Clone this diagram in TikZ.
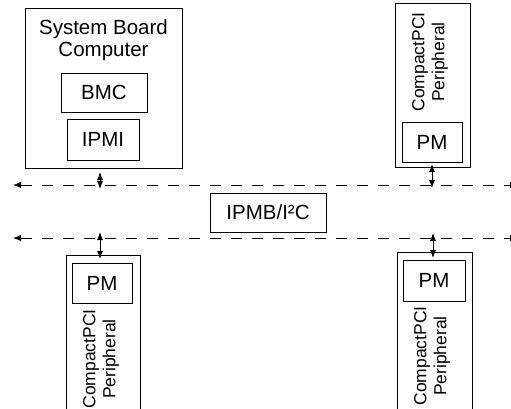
\documentclass[tikz,border=0pt]{standalone}
\usepackage{fontspec}
\setmainfont{Liberation Sans}
\usetikzlibrary{arrows.meta}
\begin{document}
\begin{tikzpicture}[x=1pt,y=-1pt,
  box/.style={draw, line width=0.9pt, inner sep=0pt},
  lbl/.style={font=\fontsize{20.5}{22}\selectfont, align=center, inner sep=0pt},
  rlbl/.style={font=\fontsize{17.5}{20}\selectfont, align=center, inner sep=0pt, rotate=90},
  bus/.style={line width=0.9pt, dash pattern=on 11pt off 10pt, {Latex[length=8pt,width=6.5pt]}-{Latex[length=8pt,width=6.5pt]}},
  biarrow/.style={line width=0.9pt, {Latex[length=8pt,width=6pt]}-{Latex[length=8pt,width=6pt]}}]
\useasboundingbox (0,0) rectangle (511,408);
% system board computer
\node[box, minimum width=157pt, minimum height=160pt] (sbc) at (103.5,88) {};
\node[lbl] (sbct) at (103.5,40) {System Board\\Computer};
\node[box, lbl, minimum width=86pt, minimum height=39pt] (bmc) at (104,92.5) {BMC};
\node[box, lbl, minimum width=72pt, minimum height=41pt] (ipmi) at (103,139.5) {IPMI};
% top right peripheral
\node[box, minimum width=75pt, minimum height=164pt] (p1) at (432.5,85) {};
\node[rlbl] (p1t) at (430,62) {CompactPCI\\Peripheral};
\node[box, lbl, minimum width=60pt, minimum height=40pt] (pm1) at (432,142) {PM};
% bottom left peripheral
\node[box, minimum width=74pt, minimum height=164pt] (p2) at (103,337) {};
\node[rlbl] (p2t) at (101,359) {CompactPCI\\Peripheral};
\node[box, lbl, minimum width=60pt, minimum height=40pt] (pm2) at (102,283) {PM};
% bottom right peripheral
\node[box, minimum width=75pt, minimum height=164pt] (p3) at (434.5,334) {};
\node[rlbl] (p3t) at (432,356) {CompactPCI\\Peripheral};
\node[box, lbl, minimum width=62pt, minimum height=41pt] (pm3) at (434,280.5) {PM};
% bus label
\node[box, lbl, minimum width=116pt, minimum height=39pt] (ipmb) at (268,212.5) {IPMB/I²C};
% buses
\coordinate (busTL) at (13,185);
\coordinate (busTR) at (518,185);
\coordinate (busBL) at (13,238);
\coordinate (busBR) at (518,238);
\draw[bus] (busTL) -- (busTR);
\draw[bus] (busBL) -- (busBR);
% taps
\coordinate (a1) at (100,172); \coordinate (b1) at (100,189);
\coordinate (a2) at (432,164); \coordinate (b2) at (432,188);
\coordinate (a3) at (100,232); \coordinate (b3) at (100,259);
\coordinate (a4) at (433,233); \coordinate (b4) at (433,258);
\draw[biarrow] (a1) -- (b1);
\draw[biarrow] (a2) -- (b2);
\draw[biarrow] (a3) -- (b3);
\draw[biarrow] (a4) -- (b4);
\end{tikzpicture}
\end{document}
